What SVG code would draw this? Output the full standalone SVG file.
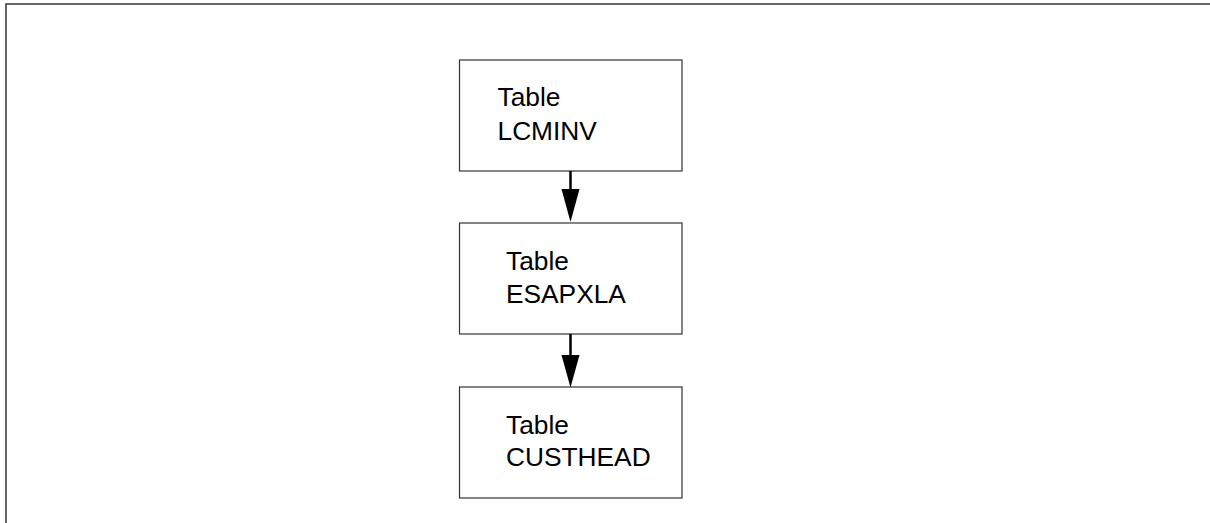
<svg xmlns="http://www.w3.org/2000/svg" width="1210" height="523" viewBox="0 0 1210 523">
<style>
.box{fill:#fff;stroke:#333;stroke-width:1.2}
.t{font-family:"Liberation Sans",Arial,sans-serif;font-size:26.3px;fill:#000}
.c{stroke:#000;stroke-width:2.5;fill:none}
.frame{stroke:#333;stroke-width:1.5;fill:none}
</style>
<rect width="1210" height="523" fill="#fff"/>
<path class="frame" d="M6,523 V4 H1210"/>
<g id="n1"><rect class="box" x="459.5" y="60" width="222.5" height="111"/><text class="t" x="497.5" y="106">Table</text><text class="t" x="497.5" y="139.5">LCMINV</text></g>
<g id="n2"><rect class="box" x="459.5" y="223" width="222.5" height="111"/><text class="t" x="506" y="269.5">Table</text><text class="t" x="506" y="303">ESAPXLA</text></g>
<g id="n3"><rect class="box" x="459.5" y="387" width="222.5" height="111"/><text class="t" x="506" y="433.5">Table</text><text class="t" x="506" y="465.5">CUSTHEAD</text></g>
<g id="connectors">
<line class="c" x1="570.5" y1="171" x2="570.5" y2="190"/>
<path d="M561.5,189 L579.5,189 L570.5,222 Z" fill="#000"/>
<line class="c" x1="570.5" y1="334" x2="570.5" y2="356"/>
<path d="M561.5,355 L579.5,355 L570.5,387.5 Z" fill="#000"/>
</g>
</svg>
